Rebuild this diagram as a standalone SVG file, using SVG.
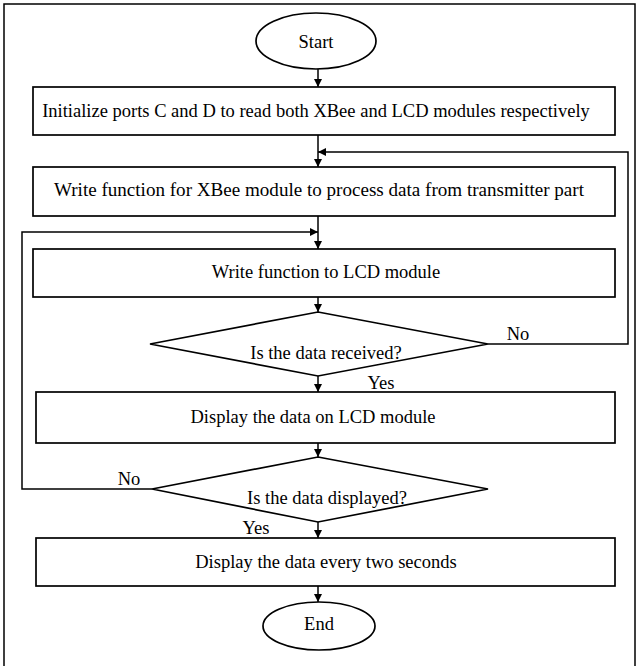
<svg xmlns="http://www.w3.org/2000/svg" width="638" height="666" viewBox="0 0 638 666">
  <defs>
    <marker id="arrow" viewBox="0 0 10 10" refX="10" refY="5" markerWidth="8" markerHeight="8" markerUnits="userSpaceOnUse" orient="auto">
      <path d="M0,0 L10,5 L0,10 z" fill="#000"/>
    </marker>
    <style>
      .shape { fill: #fff; stroke: #000; stroke-width: 1.7; }
      .edge { fill: none; stroke: #000; stroke-width: 1.5; marker-end: url(#arrow); }
      .label { font-family: "Liberation Serif", "Times New Roman", serif; font-size: 18.5px; fill: #000; text-anchor: middle; dominant-baseline: central; }
      .tag { font-family: "Liberation Serif", "Times New Roman", serif; font-size: 18.5px; fill: #000; text-anchor: middle; dominant-baseline: central; }
    </style>
  </defs>

  <!-- outer frame, open at the bottom edge of the page -->
  <path d="M4,668 V4 H635 V668" fill="none" stroke="#000" stroke-width="1.5"/>

  <g id="start">
    <ellipse class="shape" cx="316" cy="41" rx="60" ry="28"/>
    <text class="label" x="316" y="42">Start</text>
  </g>

  <g id="init">
    <rect class="shape" x="33" y="87" width="582" height="48"/>
    <text class="label" x="316" y="111">Initialize ports C and D to read both XBee and LCD modules respectively</text>
  </g>

  <g id="xbee">
    <rect class="shape" x="33" y="167" width="582" height="49"/>
    <text class="label" x="319" y="190" textLength="530" lengthAdjust="spacingAndGlyphs">Write function for XBee module to process data from transmitter part</text>
  </g>

  <g id="lcd-write">
    <rect class="shape" x="33" y="249" width="582" height="48"/>
    <text class="label" x="326" y="272">Write function to LCD module</text>
  </g>

  <g id="received">
    <polygon class="shape" points="318,312 488,344 318,376 150,344"/>
    <text class="label" x="326" y="353">Is the data received?</text>
  </g>

  <g id="display-lcd">
    <rect class="shape" x="36" y="392" width="579" height="51"/>
    <text class="label" x="313" y="417">Display the data on LCD module</text>
  </g>

  <g id="displayed">
    <polygon class="shape" points="318,457 488,489 318,522 152,489"/>
    <text class="label" x="327" y="498">Is the data displayed?</text>
  </g>

  <g id="display-every">
    <rect class="shape" x="36" y="538" width="579" height="48"/>
    <text class="label" x="326" y="562">Display the data every two seconds</text>
  </g>

  <g id="end">
    <ellipse class="shape" cx="319" cy="626" rx="56" ry="24"/>
    <text class="label" x="319" y="624">End</text>
  </g>

  <g id="connectors">
    <line class="edge" x1="318" y1="69" x2="318" y2="87"/>
    <line class="edge" x1="318" y1="135" x2="318" y2="167"/>
    <polyline class="edge" points="488,344 628,344 628,152 318,152"/>
    <line class="edge" x1="318" y1="216" x2="318" y2="249"/>
    <polyline class="edge" points="152,489 22,489 22,232 318,232"/>
    <line class="edge" x1="318" y1="297" x2="318" y2="312"/>
    <line class="edge" x1="318" y1="376" x2="318" y2="392"/>
    <line class="edge" x1="318" y1="443" x2="318" y2="457"/>
    <line class="edge" x1="318" y1="522" x2="318" y2="538"/>
    <line class="edge" x1="318" y1="586" x2="318" y2="602"/>
    <text class="tag" x="518" y="334">No</text>
    <text class="tag" x="381" y="383">Yes</text>
    <text class="tag" x="129" y="479">No</text>
    <text class="tag" x="256" y="528">Yes</text>
  </g>
</svg>
